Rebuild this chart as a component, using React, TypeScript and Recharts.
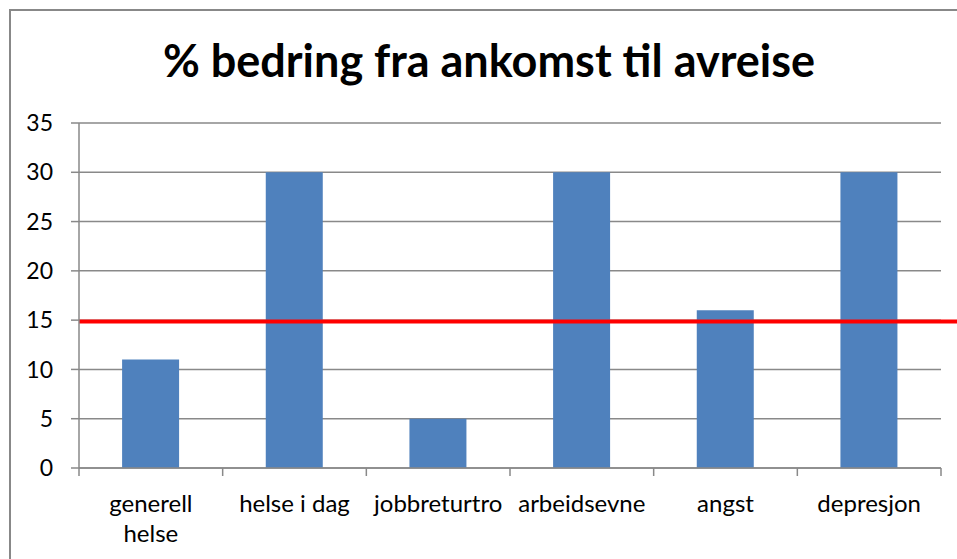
import { BarChart, Bar, XAxis, YAxis, CartesianGrid, ReferenceLine } from 'recharts'

const CATEGORIES = ['generell helse', 'helse i dag', 'jobbreturtro', 'arbeidsevne', 'angst', 'depresjon']
const VALUES = [11, 30, 5, 30, 16, 30]
const Y_TICKS = [0, 5, 10, 15, 20, 25, 30, 35]
const TARGET = 14.85
const WRAPPED: Record<string, string[]> = { 'generell helse': ['generell', 'helse'] }

const W = 957
const H = 559
const Y_AXIS_W = 79
const RIGHT = 16
const BAND = (W - RIGHT - Y_AXIS_W) / CATEGORIES.length
const FONT = 'Lato, "Open Sans", sans-serif'
const GRID = '#898989'
const BAR = '#4F81BD'

const data = CATEGORIES.map((name, i) => ({ name, value: VALUES[i] }))

const XTick = ({ x, y, payload, index }: any) => {
  const lines = WRAPPED[payload.value] ?? [payload.value]
  const left = x - BAND / 2
  return (
    <g>
      <line x1={left} x2={left} y1={y} y2={y + 8} stroke={GRID} strokeWidth={1.5} />
      {index === CATEGORIES.length - 1 && (
        <line x1={x + BAND / 2} x2={x + BAND / 2} y1={y} y2={y + 8} stroke={GRID} strokeWidth={1.5} />
      )}
      {lines.map((l: string, i: number) => (
        <text key={i} x={x} y={y + 44 + i * 30} textAnchor="middle" fill="#000" fontSize={24} fontFamily={FONT}>
          {l}
        </text>
      ))}
    </g>
  )
}

const RedLine = ({ x1, y1, x2 }: any) => (
  <line x1={x1} x2={x2 + RIGHT + 4} y1={y1} y2={y1} stroke="#FF0000" strokeWidth={4} />
)

export default function App() {
  return (
    <div style={{ position: 'absolute', left: 0, top: 0, width: W, height: H, overflow: 'hidden', background: '#fff' }}>
      <div style={{
        position: 'absolute', left: 9, top: 9, width: W + 20, height: H + 20,
        border: '2px solid #888', boxSizing: 'border-box',
      }} />
      <div style={{
        position: 'absolute', left: 0, width: 978, top: 30, textAlign: 'center',
        fontFamily: FONT, fontWeight: 700, fontSize: 45, lineHeight: '60px', color: '#000',
      }}>
        % bedring fra ankomst til avreise
      </div>
      <div style={{ position: 'absolute', left: 0, top: 0 }}>
        <BarChart width={W} height={H} data={data} margin={{ top: 123, right: RIGHT, left: 0, bottom: 0 }}
          barCategoryGap="30%">
          <CartesianGrid vertical={false} stroke={GRID} strokeWidth={1.5} />
          <XAxis
            dataKey="name"
            height={91}
            interval={0}
            tickSize={0}
            tickMargin={0}
            tickLine={false}
            axisLine={{ stroke: GRID, strokeWidth: 1.5 }}
            tick={<XTick />}
          />
          <YAxis
            width={Y_AXIS_W}
            domain={[0, 35]}
            ticks={Y_TICKS}
            interval={0}
            tickSize={8}
            tickMargin={18}
            tickLine={{ stroke: GRID, strokeWidth: 1.5 }}
            axisLine={{ stroke: GRID, strokeWidth: 1.5 }}
            tick={{ fill: '#000', fontSize: 23, fontFamily: FONT }}
          />
          <Bar dataKey="value" fill={BAR} isAnimationActive={false} />
          <ReferenceLine y={TARGET} shape={<RedLine />} />
        </BarChart>
      </div>
    </div>
  )
}
